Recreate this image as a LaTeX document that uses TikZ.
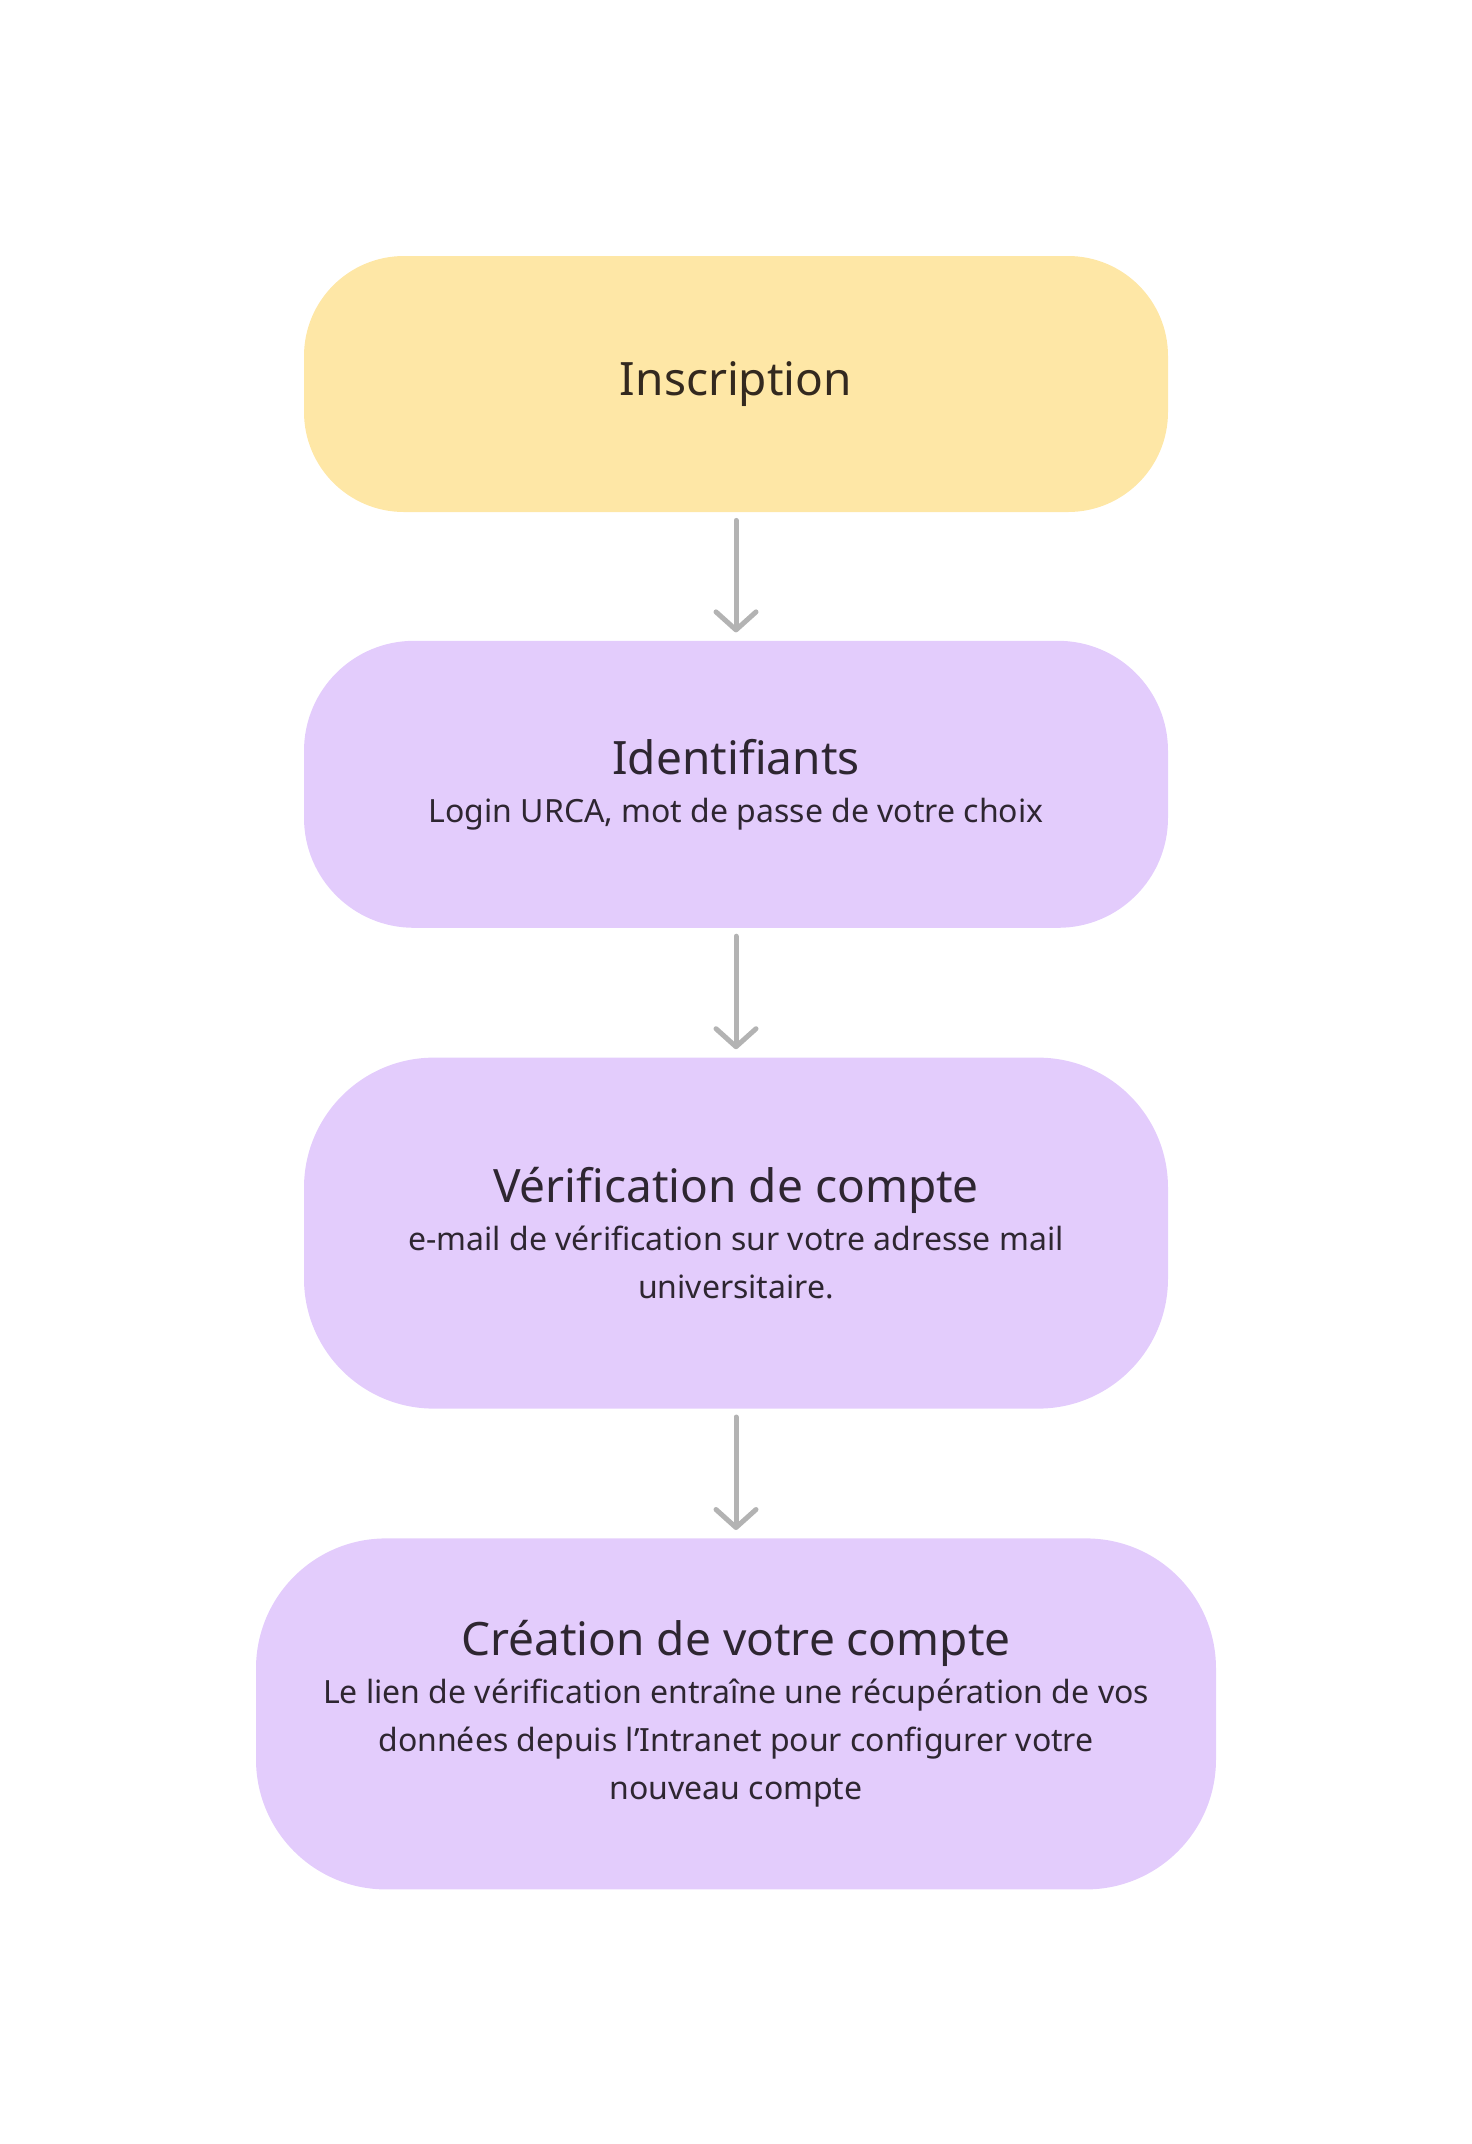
\documentclass[tikz,border=0pt]{standalone}
\usepackage{fontspec}
\setmainfont{Noto Sans}
\usetikzlibrary{arrows.meta, positioning}

\definecolor{stepyellow}{HTML}{FEE7A6}
\definecolor{steplilac}{HTML}{E3CCFC}
\definecolor{steptext}{HTML}{2E2631}
\definecolor{inktext}{HTML}{33291F}
\definecolor{flowgray}{HTML}{B3B3B3}

\newcommand{\steptitle}[1]{{\fontsize{23}{24}\selectfont #1}}

\begin{document}
\begin{tikzpicture}[x=0.5pt, y=-0.5pt,
    stepbox/.style={inner sep=0pt, align=center, text=steptext, font=\fontsize{16}{24}\selectfont, minimum width=432pt},
    flow/.style={draw=flowgray, line width=2.5pt, line cap=round, -{Straight Barb[length=9pt, width=20pt, round]}, shorten <=4pt, shorten >=4pt}]
    \useasboundingbox (0,0) rectangle (1472,2144);

    % Steps of the sign-up
    \node[stepbox, fill=stepyellow, text=inktext, minimum height=128pt, rounded corners=50pt] (inscr) at (736,384) {\steptitle{Inscription}};
    \node[stepbox, fill=steplilac, minimum height=143.5pt, rounded corners=55pt, below=64pt of inscr] (ident)
        {\steptitle{Identifiants}\\ Login URCA, mot de passe de votre choix};
    \node[stepbox, fill=steplilac, minimum height=175.5pt, rounded corners=65pt, below=64.5pt of ident] (verif)
        {\steptitle{Vérification de compte}\\ e-mail de vérification sur votre adresse mail\\ universitaire.};
    \node[stepbox, fill=steplilac, minimum width=480pt, minimum height=175.5pt, rounded corners=65pt, below=64.5pt of verif] (creat)
        {\steptitle{Création de votre compte}\\ Le lien de vérification entraîne une récupération de vos\\ données depuis l’Intranet pour configurer votre\\ nouveau compte};

    % Arrows
    \foreach \a/\b in {inscr/ident, ident/verif, verif/creat} {
        \draw[flow] (\a) -- (\b);
    }
\end{tikzpicture}
\end{document}
